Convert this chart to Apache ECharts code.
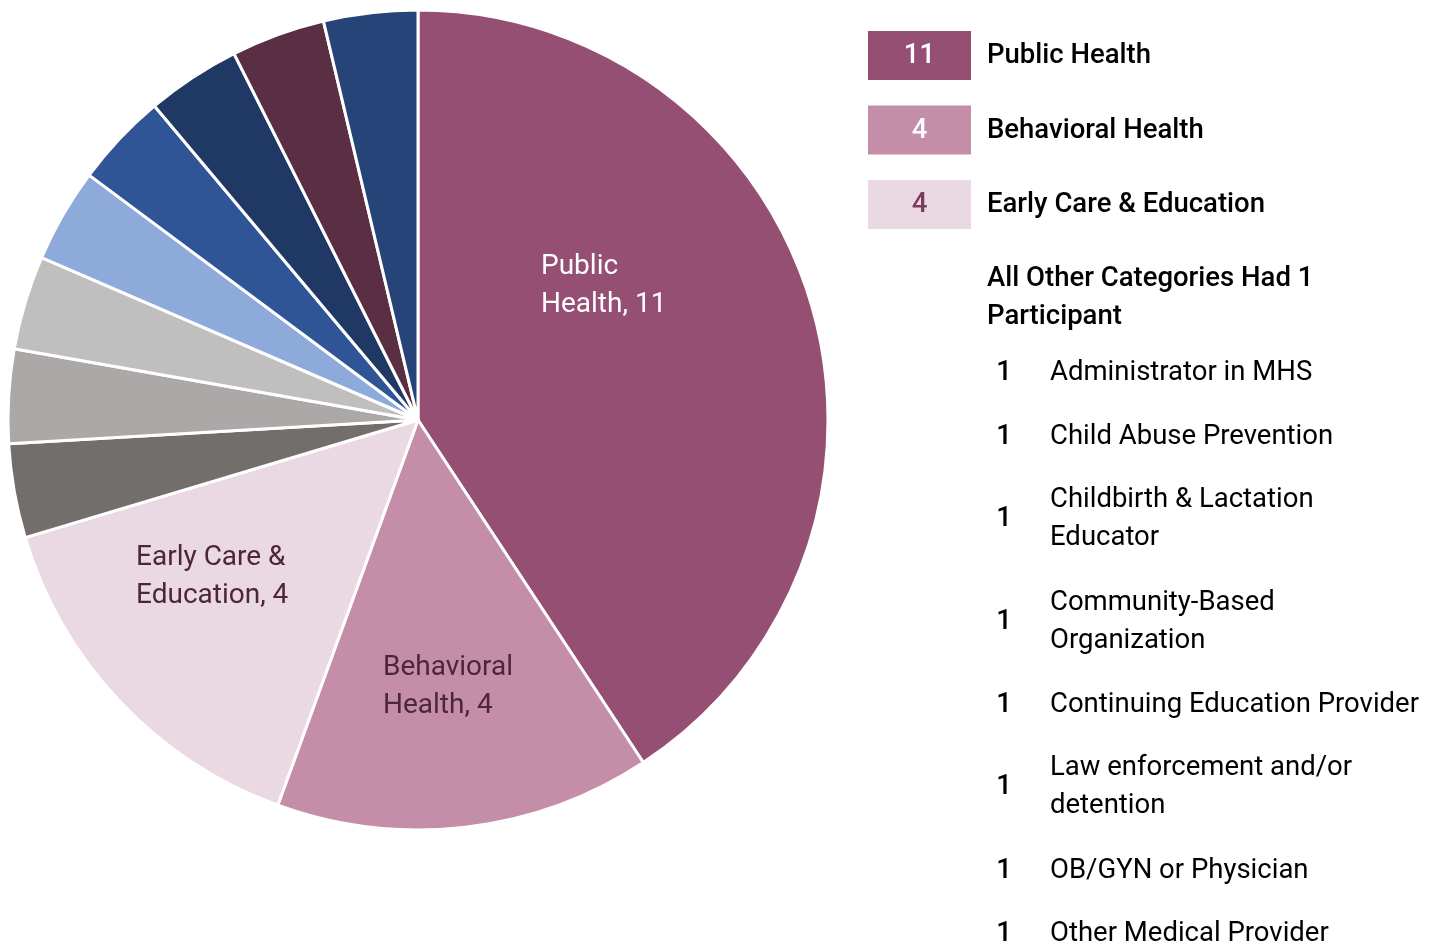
<!DOCTYPE html>
<html>
<head>
<meta charset="utf-8">
<script src="https://cdn.jsdelivr.net/npm/echarts@6/dist/echarts.min.js"></script>
<style>
  html, body { margin: 0; padding: 0; background: #ffffff; }
  #chart { width: 1441px; height: 945px; }
</style>
</head>
<body>
<div id="chart"></div>
<script>
// Participants by professional category
const mainCategories = ['Public Health', 'Behavioral Health', 'Early Care & Education'];
const mainValues = [11, 4, 4];
const mainLabelText = ['Public\nHealth', 'Behavioral\nHealth', 'Early Care &\nEducation'];

const otherCategories = [
  'Administrator in MHS',
  'Child Abuse Prevention',
  'Childbirth & Lactation Educator',
  'Community-Based Organization',
  'Continuing Education Provider',
  'Law enforcement and/or detention',
  'OB/GYN or Physician',
  'Other Medical Provider'
];
const otherValues = [1, 1, 1, 1, 1, 1, 1, 1];
// wrapped forms used in the right-hand list
const otherListText = [
  'Administrator in MHS',
  'Child Abuse Prevention',
  'Childbirth & Lactation\nEducator',
  'Community-Based\nOrganization',
  'Continuing Education Provider',
  'Law enforcement and/or\ndetention',
  'OB/GYN or Physician',
  'Other Medical Provider'
];
const otherHeading = 'All Other Categories Had 1\nParticipant';

// styling
const mainColors = ['#954f72', '#c48ea9', '#ead9e2'];
const otherColors = ['#726e6c', '#aca8a7', '#bfbfbf', '#8eaadb', '#2f5597', '#203864', '#5a2e43', '#264478'];
const mainLabelColors = ['#ffffff', '#4d2638', '#4d2638'];
const boxTextColors = ['#ffffff', '#ffffff', '#7a3d5a'];
const FONT = 'Roboto';
const FS = 27.5;

// where the in-slice labels sit (left edge, vertical middle)
const sliceLabelPos = [[541, 286], [383, 687], [136, 577]];

const pieData = mainCategories.map((n, i) => ({
  name: n, value: mainValues[i],
  itemStyle: { color: mainColors[i] },
  label: { show: true, color: mainLabelColors[i] }
})).concat(otherCategories.map((n, i) => ({
  name: n, value: otherValues[i],
  itemStyle: { color: otherColors[i] },
  label: { show: false }
})));

// right-hand key
const graphics = [];
const boxX = 868, boxW = 103, boxH = 49, boxTop = 31, boxStep = 74.5;
mainCategories.forEach((n, i) => {
  const y = boxTop + i * boxStep;
  graphics.push({
    type: 'rect', shape: { x: boxX, y: y, width: boxW, height: boxH },
    style: { fill: mainColors[i] }, silent: true
  });
  graphics.push({
    type: 'text', x: boxX + boxW / 2, y: y + boxH / 2 + 1,
    style: { text: String(mainValues[i]), fill: boxTextColors[i], font: '500 ' + FS + 'px ' + FONT,
             textAlign: 'center', textVerticalAlign: 'middle' }
  });
  graphics.push({
    type: 'text', x: 987, y: y + boxH / 2 + 1,
    style: { text: n, fill: '#000000', font: '500 ' + FS + 'px ' + FONT,
             textAlign: 'left', textVerticalAlign: 'middle' }
  });
});
graphics.push({
  type: 'text', x: 987, y: 298,
  style: { text: otherHeading, fill: '#000000', font: '500 ' + FS + 'px ' + FONT, lineHeight: 38,
           textAlign: 'left', textVerticalAlign: 'middle' }
});
const listY = [373, 437, 519, 622, 705, 787, 871, 934];
otherCategories.forEach((n, i) => {
  graphics.push({
    type: 'text', x: 1004, y: listY[i],
    style: { text: String(otherValues[i]), fill: '#000000', font: '500 ' + FS + 'px ' + FONT,
             textAlign: 'center', textVerticalAlign: 'middle' }
  });
  graphics.push({
    type: 'text', x: 1050, y: listY[i],
    style: { text: otherListText[i], fill: '#000000', font: '400 ' + FS + 'px ' + FONT, lineHeight: 38,
             textAlign: 'left', textVerticalAlign: 'middle' }
  });
});

const chart = echarts.init(document.getElementById('chart'), null, { renderer: 'canvas' });
chart.setOption({
  animation: false,
  backgroundColor: '#ffffff',
  series: [{
    type: 'pie',
    center: [418, 420],
    radius: [0, 410],
    startAngle: 90,
    clockwise: true,
    avoidLabelOverlap: false,
    itemStyle: { borderColor: '#ffffff', borderWidth: 3 },
    label: {
      position: 'inside',
      fontFamily: FONT,
      fontSize: 28,
      lineHeight: 38,
      align: 'left',
      formatter: p => mainLabelText[p.dataIndex] + ', ' + p.value
    },
    labelLine: { show: false },
    labelLayout: p => {
      const pos = sliceLabelPos[p.dataIndex];
      return pos ? { x: pos[0], y: pos[1], align: 'left', verticalAlign: 'middle' } : {};
    },
    emphasis: { disabled: true },
    data: pieData
  }],
  graphic: graphics
});
</script>
</body>
</html>
